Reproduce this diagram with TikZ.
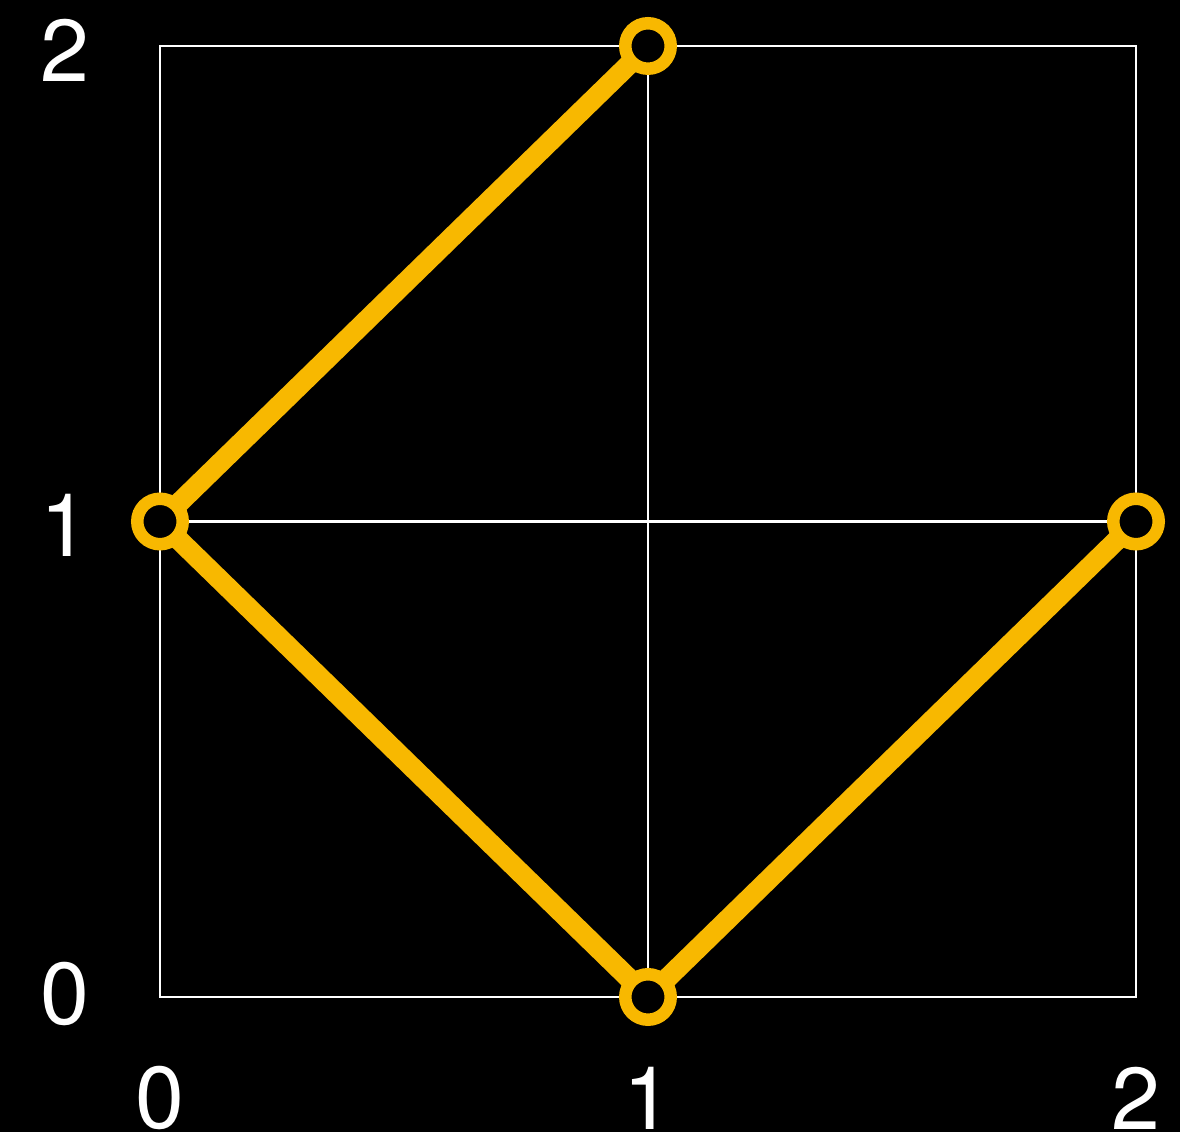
\documentclass[tikz,border=0pt]{standalone}
\usepackage{fontspec}
\setmainfont{TeX Gyre Heros}
\usetikzlibrary{backgrounds}
\definecolor{amber}{RGB}{248,184,0}

\begin{document}
\begin{tikzpicture}[
  x=9.76cm, y=9.51cm,
  gridline/.style = {draw=white, line width=1.4pt},
  vertex/.style = {circle, draw=amber, fill=black, line width=7.1pt, minimum size=0.91cm, inner sep=0pt},
  edge/.style = {draw=amber, line width=11.5pt},
  axislabel/.style = {text=white, font=\fontsize{50}{50}\selectfont, inner sep=0pt}
]
\useasboundingbox (-3.2cm,-2.7cm) rectangle (20.4cm,19.94cm);
% axis numbers
\node[axislabel] (y0) at (-1.9cm,0.06cm) {0};
\node[axislabel] (y1) at (-1.9cm,9.43cm) {1};
\node[axislabel] (y2) at (-1.9cm,18.94cm) {2};
\node[axislabel] (x0) at (0,-2.02cm) {0};
\node[axislabel] (x1) at (1,-2.02cm) {1};
\node[axislabel] (x2) at (2,-2.02cm) {2};
% the path
\node[vertex] (top) at (1,2) {};
\node[vertex] (left) at (0,1) {};
\node[vertex] (bottom) at (1,0) {};
\node[vertex] (right) at (2,1) {};
\begin{scope}[on background layer]
  \fill[black] (-3.2cm,-2.7cm) rectangle (20.4cm,19.94cm);
  % grid
  \draw[gridline] (0,0) rectangle (2,2);
  \draw[gridline] (1,0) -- (1,2);
  \draw[gridline] (0,1) -- (2,1);
  \draw[edge] (top.center) -- (left.center) -- (bottom.center) -- (right.center);
\end{scope}
\end{tikzpicture}
\end{document}
